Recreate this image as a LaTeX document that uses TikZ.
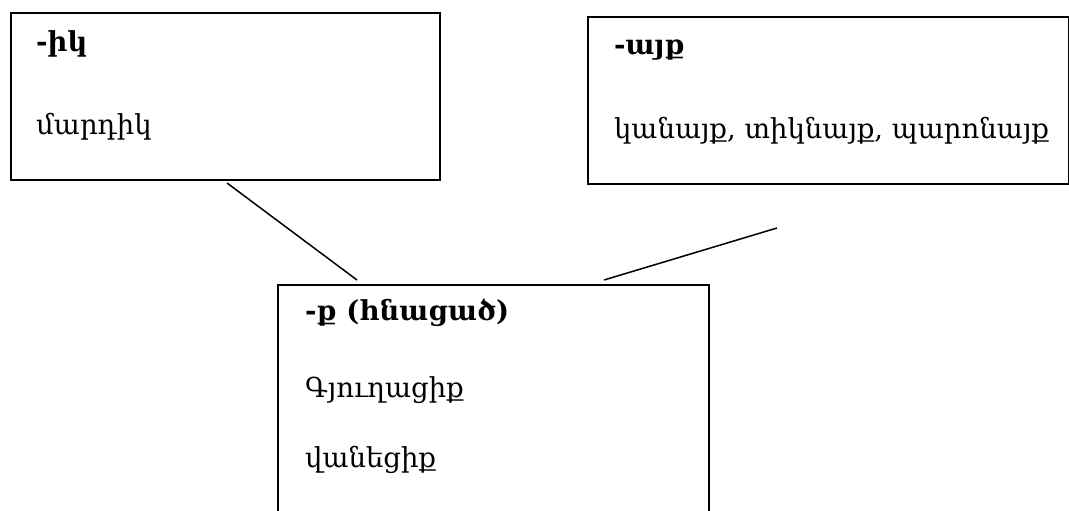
\documentclass[tikz,border=0pt]{standalone}
\usepackage{fontspec}
\setmainfont{DejaVu Serif}
\begin{document}
\begin{tikzpicture}[x=1pt,y=-1pt,
  box/.style={draw, line width=2pt, inner sep=0pt, anchor=north west},
  lbl/.style={anchor=base west, inner sep=0pt, font=\fontsize{27.5}{32}\selectfont},
  head/.style={anchor=base west, inner sep=0pt, font=\fontsize{27.5}{32}\selectfont\bfseries},
  conn/.style={line width=1.5pt}]
\clip (0,0) rectangle (1069,511);
\fill[white] (0,0) rectangle (1069,511);
\node[box, minimum width=429pt, minimum height=167pt] (b1) at (10,12) {};
\node[box, minimum width=481pt, minimum height=167pt] (b2) at (587,16) {};
\node[box, minimum width=431pt, minimum height=260pt] (b3) at (277,284) {};
\node[head] (h1) at (36,52) {-իկ};
\node[lbl] (t1) at (36,135) {մարդիկ};
\node[head] (h2) at (614,55) {-այք};
\node[lbl] (t2) at (614,139) {կանայք, տիկնայք, պարոնայք};
\node[head] (h3) at (305,320) {-ք (հնացած)};
\node[lbl] (t3) at (305,397) {Գյուղացիք};
\node[lbl] (t4) at (305,467) {վանեցիք};
\coordinate (c1a) at (227,183);
\coordinate (c1b) at (357,280);
\coordinate (c2a) at (777,228);
\coordinate (c2b) at (604,280);
\draw[conn] (c1a) -- (c1b);
\draw[conn] (c2a) -- (c2b);
\end{tikzpicture}
\end{document}
